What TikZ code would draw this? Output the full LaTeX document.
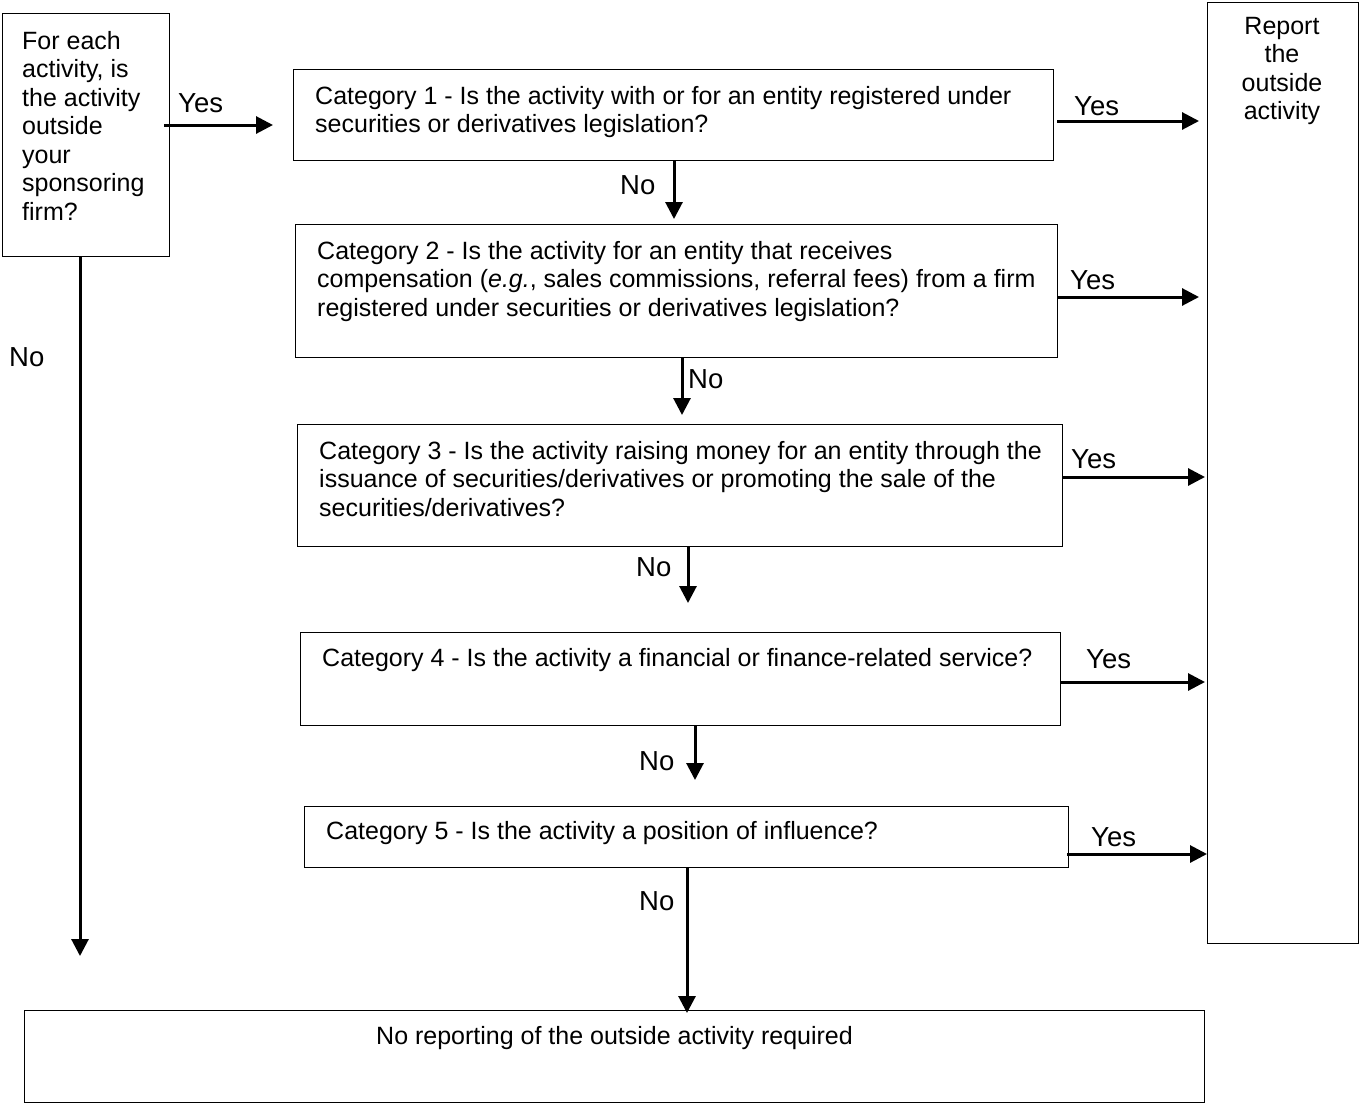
\documentclass[tikz,border=0pt]{standalone}
\usepackage{fontspec}
\setmainfont{Liberation Sans}
\usetikzlibrary{arrows.meta}
\begin{document}
\begin{tikzpicture}[x=1pt,y=-1pt,
  box/.style={draw, line width=1.4pt, inner sep=0pt, anchor=north west},
  txt/.style={inner sep=0pt, anchor=north west, align=left, font=\fontsize{25}{28.5}\selectfont},
  lbl/.style={inner sep=0pt, anchor=base west, font=\fontsize{27.5}{30}\selectfont},
  arr/.style={line width=3pt, -{Triangle[length=17pt,width=17pt]}}
]
\useasboundingbox (0,0) rectangle (1360,1103);
% boxes
\node[box, minimum width=167pt, minimum height=243pt] (A) at (2,13) {};
\node[box, minimum width=760pt, minimum height=91pt] (c1) at (293,69) {};
\node[box, minimum width=762pt, minimum height=133pt] (c2) at (295,224) {};
\node[box, minimum width=765pt, minimum height=122pt] (c3) at (297,424) {};
\node[box, minimum width=760pt, minimum height=93pt] (c4) at (300,632) {};
\node[box, minimum width=764pt, minimum height=61pt] (c5) at (304,806) {};
\node[box, minimum width=151pt, minimum height=941pt] (rep) at (1207,2) {};
\node[box, minimum width=1180pt, minimum height=92pt] (fin) at (24,1010) {};
% texts
\node[txt] (tA) at (22,31) {For each\\activity, is\\the activity\\outside\\your\\sponsoring\\firm?};
\node[txt, anchor=north, align=center] (trep) at (1282,17) {Report\\the\\outside\\activity};
\node[txt] (t1) at (315,86) {Category 1 - Is the activity with or for an entity registered under\\securities or derivatives legislation?};
\node[txt] (t2) at (317,241) {Category 2 - Is the activity for an entity that receives\\compensation (\textit{e.g.}, sales commissions, referral fees) from a firm\\registered under securities or derivatives legislation?};
\node[txt] (t3) at (319,441) {Category 3 - Is the activity raising money for an entity through the\\issuance of securities/derivatives or promoting the sale of the\\securities/derivatives?};
\node[txt] (t4) at (322,648) {Category 4 - Is the activity a financial or finance-related service?};
\node[txt] (t5) at (326,821) {Category 5 - Is the activity a position of influence?};
\node[txt] (tfin) at (376,1026) {No reporting of the outside activity required};
% connectors
\draw[arr] ([xshift=-6pt]A.east |- 0,125) -- ([xshift=-20pt]c1.west |- 0,125);
\draw[arr, shorten >=5pt] (c1.south -| 674,0) -- (c2.north -| 674,0);
\draw[arr, shorten >=9pt] (c2.south -| 682,0) -- (c3.north -| 682,0);
\draw[arr, shorten >=29pt] (c3.south -| 688,0) -- (c4.north -| 688,0);
\draw[arr, shorten >=26pt] (c4.south -| 695,0) -- (c5.north -| 695,0);
\draw[arr] (c5.south -| 687,0) -- ([yshift=-3pt]fin.north -| 687,0);
\draw[arr] (A.south -| 80,0) -- (80,956);
\draw[arr, shorten >=8pt] ([xshift=3pt]c1.east |- 0,121) -- (rep.west |- 0,121);
\draw[arr, shorten >=8pt] (c2.east |- 0,297) -- (rep.west |- 0,297);
\draw[arr, shorten >=2pt] (c3.east |- 0,477) -- (rep.west |- 0,477);
\draw[arr, shorten >=2pt] (c4.east |- 0,682) -- (rep.west |- 0,682);
\draw[arr] ([xshift=-2pt]c5.east |- 0,854) -- (rep.west |- 0,854);
% labels
\node[lbl] (yA) at (178,112) {Yes};
\node[lbl] (y1) at (1074,115) {Yes};
\node[lbl] (y2) at (1070,289) {Yes};
\node[lbl] (y3) at (1071,468) {Yes};
\node[lbl] (y4) at (1086,668) {Yes};
\node[lbl] (y5) at (1091,846) {Yes};
\node[lbl] (n1) at (620,194) {No};
\node[lbl] (n2) at (688,388) {No};
\node[lbl] (n3) at (636,576) {No};
\node[lbl] (n4) at (639,770) {No};
\node[lbl] (n5) at (639,910) {No};
\node[lbl] (nL) at (9,366) {No};
\end{tikzpicture}
\end{document}
